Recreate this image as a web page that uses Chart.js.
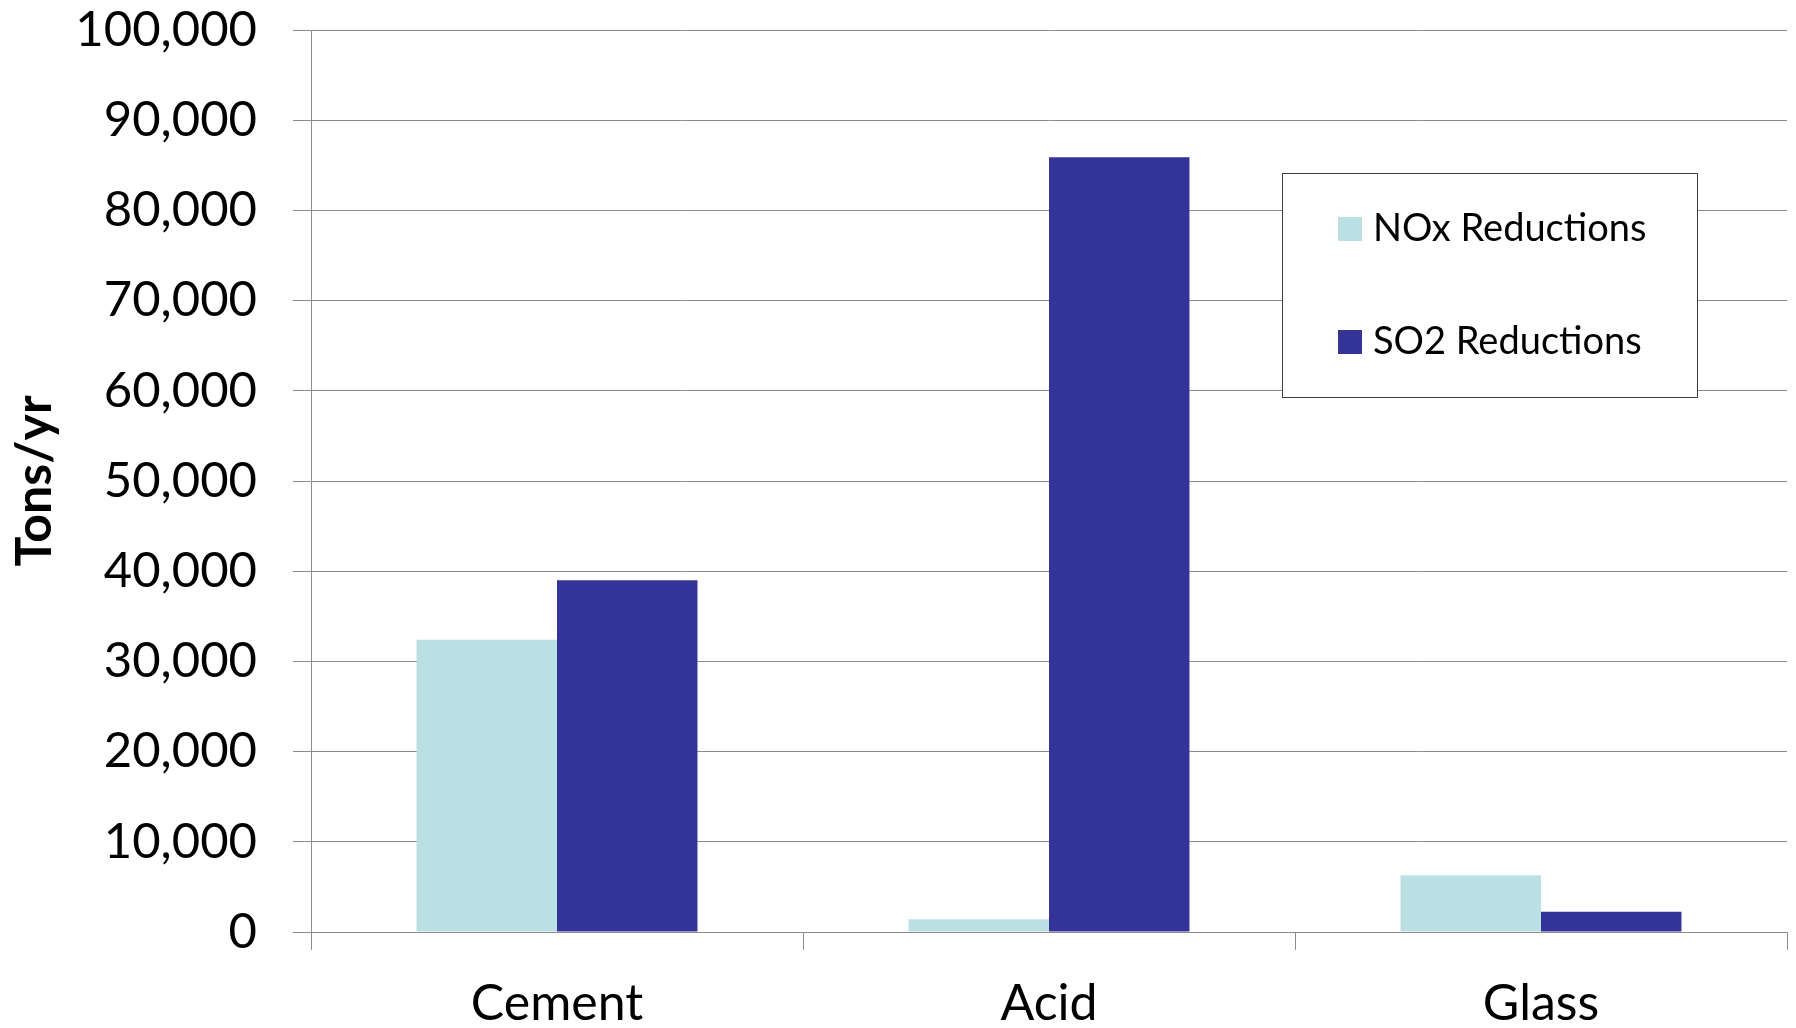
<!DOCTYPE html>
<html>
<head>
<meta charset="utf-8">
<script src="https://cdn.jsdelivr.net/npm/chart.js@4/dist/chart.umd.min.js"></script>
<style>
  html, body { margin: 0; padding: 0; background: #ffffff; }
  #wrap { width: 1796px; height: 1028px; }
</style>
</head>
<body>
<div id="wrap"><canvas id="c" width="1796" height="1028"></canvas></div>
<script>
// Emission reductions by industry (tons per year)
const categories = ['Cement', 'Acid', 'Glass'];
const noxReductions = [32400, 1400, 6300];
const so2Reductions = [39000, 85900, 2250];
const seriesNames = ['NOx Reductions', 'SO2 Reductions'];
const yTicks = [0, 10000, 20000, 30000, 40000, 50000, 60000, 70000, 80000, 90000, 100000];

const FONT = 'Lato, "Open Sans", "Liberation Sans", sans-serif';
const GRID = '#8c8c8c';

// Boxed legend drawn inside the plot area, listing each dataset
const boxedLegend = {
  id: 'boxedLegend',
  afterDraw(chart) {
    const ctx = chart.ctx;
    const x0 = 1282, y0 = 173, w = 415, h = 224;
    ctx.save();
    ctx.fillStyle = '#ffffff';
    ctx.fillRect(x0, y0, w, h);
    ctx.strokeStyle = '#404040';
    ctx.lineWidth = 1;
    ctx.strokeRect(x0 + 0.5, y0 + 0.5, w, h);
    ctx.font = '38px ' + FONT;
    ctx.textBaseline = 'middle';
    ctx.textAlign = 'left';
    chart.data.datasets.forEach((ds, i) => {
      const cy = 229 + i * 113;
      ctx.fillStyle = ds.backgroundColor;
      ctx.fillRect(1338, cy - 12, 24, 24);
      ctx.fillStyle = '#000000';
      ctx.fillText(ds.label, 1373, cy);
    });
    ctx.restore();
  }
};

new Chart(document.getElementById('c'), {
  type: 'bar',
  data: {
    labels: categories,
    datasets: [
      { label: seriesNames[0], data: noxReductions, backgroundColor: '#bae0e3', borderWidth: 0 },
      { label: seriesNames[1], data: so2Reductions, backgroundColor: '#343397', borderWidth: 0 }
    ]
  },
  options: {
    responsive: false,
    animation: false,
    devicePixelRatio: 1,
    layout: { padding: { top: 30, right: 9, left: 0, bottom: 0 } },
    datasets: { bar: { categoryPercentage: 0.571, barPercentage: 1.0 } },
    plugins: {
      legend: { display: false },
      tooltip: { enabled: false }
    },
    scales: {
      x: {
        afterFit(scale) { scale.height = 96; scale.paddingLeft = 0; scale.paddingRight = 0; },
        grid: { display: true, drawOnChartArea: false, drawTicks: true, tickLength: 18, color: GRID, lineWidth: 1 },
        border: { display: true, color: GRID, width: 1 },
        ticks: { color: '#000000', font: { family: FONT, size: 50 }, padding: 24, maxRotation: 0 }
      },
      y: {
        min: 0,
        max: 100000,
        afterFit(scale) { scale.width = 311; scale.paddingTop = 0; scale.paddingBottom = 0; },
        afterBuildTicks(scale) { scale.ticks = yTicks.map(v => ({ value: v })); },
        grid: { color: GRID, lineWidth: 1, tickLength: 18, drawTicks: true },
        border: { display: true, color: GRID, width: 1 },
        ticks: {
          color: '#000000',
          font: { family: FONT, size: 49 },
          padding: 36,
          callback: v => v.toLocaleString('en-US')
        },
        title: {
          display: true,
          text: 'Tons/yr',
          color: '#000000',
          font: { family: FONT, size: 50, weight: 'bold' },
          padding: { top: 5, bottom: 0 }
        }
      }
    }
  },
  plugins: [boxedLegend]
});
</script>
</body>
</html>
